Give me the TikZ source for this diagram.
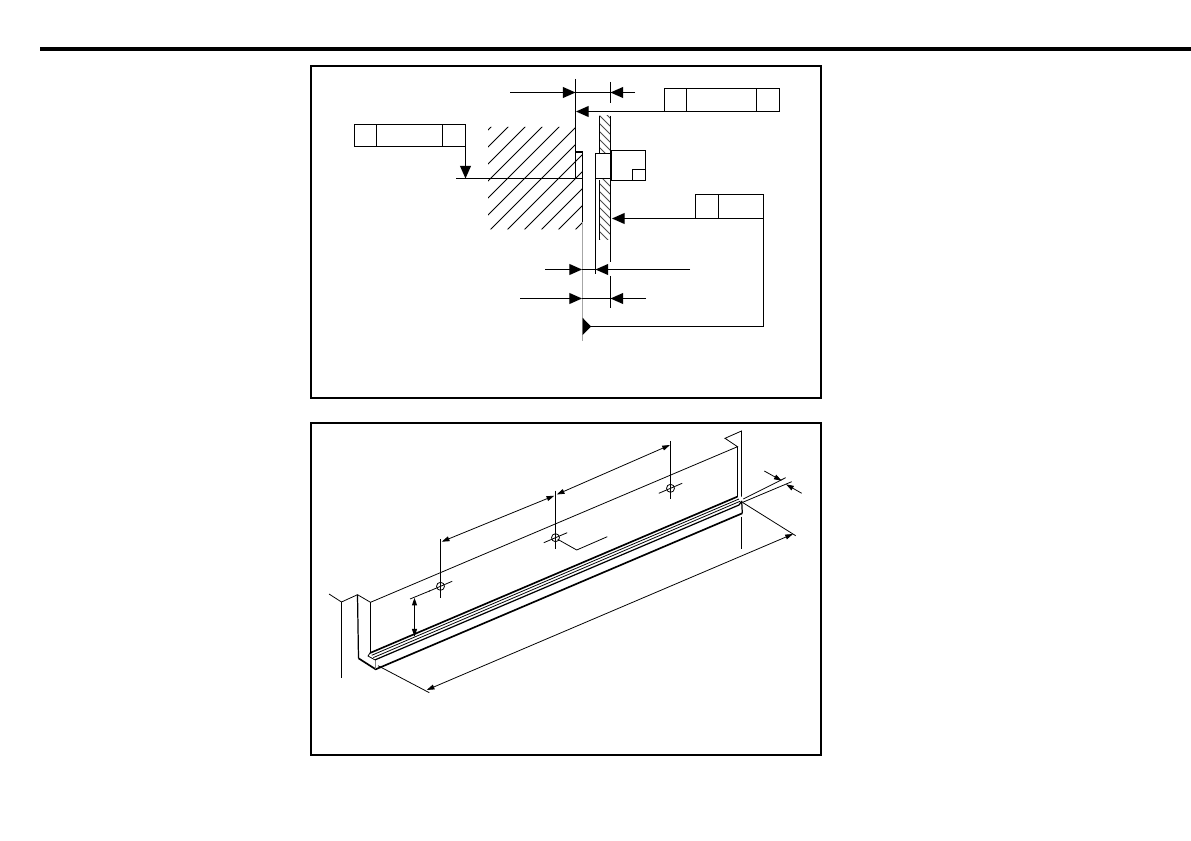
\documentclass[tikz,border=0pt]{standalone}
\usepackage{tikz}
\usetikzlibrary{arrows.meta}
\tikzset{
  thinline/.style={line width=0.45pt},
  midline/.style={line width=0.7pt},
  heavyline/.style={line width=0.95pt},
  bigtip/.style={-{Triangle[length=7.2pt,width=6.2pt]}},
  smalltip/.style={-{Triangle[length=4.4pt,width=2.8pt]}},
  bothtips/.style={{Triangle[length=4.4pt,width=2.8pt]}-{Triangle[length=4.4pt,width=2.8pt]}},
}
\begin{document}
\begin{tikzpicture}[x=0.02cm,y=-0.02cm]
\useasboundingbox (0,0) rectangle (1191,841);
% page rule and frames
\draw[line width=1.9pt] (40,49) -- (1191,49);
\draw[midline] (311,66) rectangle (821,398);
\draw[midline] (311,423) rectangle (821,755);

% upper picture: hatching
\begin{scope}
\clip (488,127) -- (575.3,127) -- (575.3,152) -- (582,152) -- (582,229.5) -- (488,229.5) -- cycle;
\foreach \c in {618,635,...,805}
    \draw[thinline] (\c-480,480) -- (\c-100,100);
\end{scope}
\begin{scope}
\clip (599.5,116) rectangle (610.5,153);
\foreach \c in {-500,-492,...,-440}
    \draw[thinline, black!70] (580,580+\c) -- (630,630+\c);
\end{scope}
\begin{scope}
\clip (599.5,180) rectangle (610.5,240);
\foreach \c in {-440,-432,...,-360}
    \draw[thinline, black!70] (580,580+\c) -- (630,630+\c);
\end{scope}

% upper picture: part outlines
\draw[midline] (575.5,79) -- (575.5,178.5);
\draw[heavyline] (582.5,152) -- (582.5,222);
\draw[midline] (575.5,152) -- (582.5,152);
\draw[line width=1pt, black!35] (582.5,222) -- (582.5,341);
\draw[midline] (595.5,153) -- (595.5,274);
\draw[midline] (610.5,116) -- (610.5,262);
\draw[midline] (610.5,276) -- (610.5,308);
\draw[midline] (599.5,116) -- (599.5,153);
\draw[midline] (599.5,180) -- (599.5,240);
\draw[midline] (595.5,153.5) rectangle (611.5,178.5);
\draw[heavyline] (595.5,153.5) -- (611.5,153.5);
\draw[midline] (611.5,150.5) rectangle (645.5,180.5);
\draw[midline] (632.5,169.5) rectangle (645.5,180.5);

% tolerance boxes
\draw[midline] (354.5,124.5) rectangle (465.5,146.5);
\draw[midline] (376.5,124.5) -- (376.5,146.5);
\draw[midline] (442.5,124.5) -- (442.5,146.5);
\draw[midline] (664.5,88.5) rectangle (779.5,111.5);
\draw[midline] (686.5,88.5) -- (686.5,111.5);
\draw[midline] (756.5,88.5) -- (756.5,111.5);
\draw[midline] (695.5,194.5) rectangle (763.5,218.5);
\draw[midline] (718.5,194.5) -- (718.5,218.5);

% leaders and dimensions
\draw[midline] (456,178.5) -- (582,178.5);
\draw[midline, bigtip] (465.5,146.5) -- (465.5,178.5);
\draw[midline, bigtip] (664.5,111.5) -- (576,111.5);
\draw[midline, bigtip] (695.5,218.5) -- (612,218.5);
\draw[midline] (763.5,218.5) -- (763.5,326.5) -- (590,326.5);
\fill (582.5,317.7) -- (591,326.5) -- (582.5,335) -- cycle;

\draw[midline] (610.5,82) -- (610.5,103);
\draw[midline, bigtip] (510,92.5) -- (575.5,92.5);
\draw[midline] (575.5,92.5) -- (635,92.5);
\draw[midline, bigtip] (635,92.5) -- (610.5,92.5);
\draw[midline, bigtip] (545,269.5) -- (582,269.5);
\draw[midline] (582,269.5) -- (595.5,269.5);
\draw[midline, bigtip] (690,269.5) -- (595.5,269.5);
\draw[midline, bigtip] (520,298.5) -- (582,298.5);
\draw[midline] (582,298.5) -- (610.5,298.5);
\draw[midline, bigtip] (646,298.5) -- (610.5,298.5);

% lower picture: wall and channel
\draw[thinline] (329,594) -- (341.5,602) -- (357.5,594.7) -- (370.5,602.3) -- (737.5,446.7) -- (725,438.3) -- (741.5,431) -- (741.5,496.7);
\draw[midline] (341.5,602) -- (341.5,677.7);
\draw[midline] (357.5,594.7) -- (358.5,658.3);
\draw[midline] (370.5,602.3) -- (370.5,653.3);
\draw[midline] (737.5,446.7) -- (737.5,496.7);
\draw[heavyline] (358.5,658.3) -- (375.7,669.3) -- (742.3,513.3);
\draw[midline] (741.7,501) -- (742.3,513.3);
\draw[midline] (741.5,516.7) -- (741.5,549);
\draw[thinline, black!50] (375.7,659.3) -- (375.7,669.3);

% lower picture: strip lines
\draw[heavyline] (370,653) -- (737.3,496.7);
\draw[thinline] (371.7,655.3) -- (739,499);
\draw[thinline] (373.3,657.6) -- (740,501.3);
\draw[midline] (375,659.9) -- (739,505) -- (741.7,501);
\draw[thinline] (370,653) -- (368,656) -- (375,659.9);

% lower picture: holes
\foreach \hx/\hy/\top/\bot in {440.5/586.3/539.3/597.7, 555.5/537.7/490.7/549, 670.5/488.3/441/499.3} {
    \draw[midline] (\hx,\top) -- (\hx,\bot);
    \draw[thinline] (\hx,\hy) circle (4);
    \draw[thinline] (\hx-11.7,\hy+5) -- (\hx+11.7,\hy-5);
}
\draw[thinline] (410,599) -- (430,590.8);
\draw[thinline] (557.7,539.3) -- (576.7,550) -- (607.3,536.7);

% lower picture: dimensions
\draw[thinline, bothtips] (441.7,541.7) -- (554.3,495.7);
\draw[thinline, bothtips] (556.7,494.5) -- (670,445);
\draw[midline, bothtips] (414.5,597.7) -- (414.5,636.7);
\draw[thinline] (378,665.7) -- (429.3,692.7);
\draw[thinline] (742.3,502.3) -- (795.7,535.7);
\draw[thinline, bothtips] (426.7,690) -- (793,534);
\draw[thinline] (743.3,499) -- (785.7,477.7);
\draw[thinline] (742.7,502.3) -- (791.7,481.7);
\draw[thinline, smalltip] (764.3,471) -- (781.7,480.7);
\draw[thinline, smalltip] (801.7,493.3) -- (786,484.3);
\end{tikzpicture}
\end{document}
